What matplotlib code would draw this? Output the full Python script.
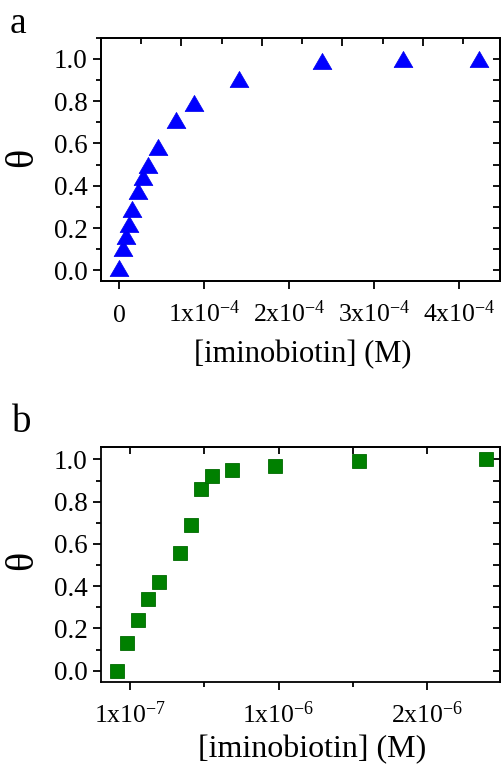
import matplotlib
matplotlib.use("Agg")
import matplotlib.pyplot as plt
from matplotlib.path import Path
from matplotlib.ticker import MultipleLocator, FixedLocator, NullFormatter

plt.rcParams["font.family"] = ["Liberation Serif", "DejaVu Serif"]
plt.rcParams["mathtext.fontset"] = "custom"
plt.rcParams["mathtext.rm"] = "Liberation Serif"
plt.rcParams["mathtext.it"] = "Liberation Serif:italic"

# ---- data ----
# panel a: triangles
conc_a = [0.0, 0.04e-4, 0.08e-4, 0.11e-4, 0.145e-4, 0.215e-4, 0.275e-4, 0.335e-4,
          0.45e-4, 0.665e-4, 0.885e-4, 1.405e-4, 2.39e-4, 3.34e-4, 4.23e-4]
theta_a = [0.01, 0.105, 0.165, 0.22, 0.29, 0.375, 0.44, 0.50,
           0.585, 0.71, 0.79, 0.905, 0.99, 1.0, 1.0]
xticks_a = [0, 1e-4, 2e-4, 3e-4, 4e-4]
xticklabels_a = ["0", r"1x10$^{\mathregular{-4}}$", r"2x10$^{\mathregular{-4}}$",
                 r"3x10$^{\mathregular{-4}}$", r"4x10$^{\mathregular{-4}}$"]

# panel b: squares
conc_b = [-0.088e-6, -0.021e-6, 0.052e-6, 0.123e-6, 0.195e-6, 0.336e-6, 0.408e-6,
          0.475e-6, 0.551e-6, 0.688e-6, 0.977e-6, 1.542e-6, 2.397e-6]
theta_b = [0.0, 0.13, 0.24, 0.34, 0.42, 0.555, 0.69, 0.86, 0.92, 0.95, 0.97, 0.99, 1.0]
xticks_b = [0, 1e-6, 2e-6]
xticklabels_b = [r"1x10$^{\mathregular{-7}}$", r"1x10$^{\mathregular{-6}}$",
                 r"2x10$^{\mathregular{-6}}$"]

yticks = [0.0, 0.2, 0.4, 0.6, 0.8, 1.0]
yticklabels = ["0.0", "0.2", "0.4", "0.6", "0.8", "1.0"]
xlabel = "[iminobiotin] (M)"
ylabel = "\u03b8"

W, H = 501, 764
fig = plt.figure(figsize=(W / 100, H / 100), dpi=100)

# flattened triangle marker (wider than tall)
tri = Path([(0, 0.86), (-1, -0.86), (1, -0.86), (0, 0.86)],
           [Path.MOVETO, Path.LINETO, Path.LINETO, Path.CLOSEPOLY])

SPINE_LW = 1.3
XTICK_FS = 18.5
YTICK_FS = 19.5


def px_axes(left, top, right, bottom):
    return fig.add_axes([left / W, 1 - bottom / H, (right - left) / W, (bottom - top) / H])


def style_common(ax):
    for s in ax.spines.values():
        s.set_linewidth(SPINE_LW)
    ax.tick_params(axis="both", which="major", width=SPINE_LW)
    ax.tick_params(axis="both", which="minor", width=SPINE_LW)
    ax.tick_params(axis="y", which="major", direction="out", length=6, pad=3.5,
                   labelsize=YTICK_FS)
    ax.tick_params(axis="y", which="minor", direction="out", length=3.5)
    ax.tick_params(axis="x", which="major", direction="out", length=5.5, pad=24,
                   labelsize=XTICK_FS)
    ax.tick_params(axis="x", which="minor", direction="out", length=3.5)
    ax.set_yticks(yticks)
    ax.set_yticklabels(yticklabels)
    ax.yaxis.set_minor_locator(MultipleLocator(0.1))
    for lab in ax.get_xticklabels():
        lab.set_verticalalignment("baseline")
    # right side: inward ticks every 0.1
    sec = ax.secondary_yaxis("right")
    sec.set_yticks([round(0.1 * i, 1) for i in range(11)])
    sec.tick_params(direction="in", length=5, width=SPINE_LW, labelright=False)
    sec.spines["right"].set_linewidth(SPINE_LW)
    return sec


# ---------- panel a ----------
axa = px_axes(101, 37.7, 500, 281)
axa.plot(conc_a, theta_a, linestyle="none", marker=tri, markersize=13.5,
         color="#0000ff", markeredgecolor="#0000ee", markeredgewidth=0.5)
axa.set_xlim(-0.215e-4, 4.48e-4)
axa.set_ylim(-0.05, 1.1)
axa.set_xticks(xticks_a)
axa.set_xticklabels(xticklabels_a)
style_common(axa)
axa.set_xlabel(xlabel, fontsize=22)
axa.xaxis.label.set_verticalalignment("baseline")
axa.xaxis.set_label_coords(0.506, -0.332)
axa.set_ylabel(ylabel, fontsize=29)
axa.yaxis.label.set_verticalalignment("center")
axa.yaxis.set_label_coords(-0.196, 0.507)

# top axis of panel a carries its own tick spacing
topa = axa.twiny()
topa.set_xlim(0, 4.96)
topa.xaxis.set_major_locator(FixedLocator([1, 2, 3, 4]))
topa.xaxis.set_minor_locator(FixedLocator([0.5, 1.5, 2.5, 3.5, 4.5]))
topa.xaxis.set_major_formatter(NullFormatter())
topa.tick_params(axis="x", which="major", direction="in", length=6, width=SPINE_LW)
topa.tick_params(axis="x", which="minor", direction="in", length=4, width=SPINE_LW)
topa.tick_params(axis="y", left=False, right=False, labelleft=False, labelright=False)
for s in topa.spines.values():
    s.set_linewidth(SPINE_LW)

# ---------- panel b ----------
axb = px_axes(101, 446.7, 500, 682.3)
axb.plot(conc_b, theta_b, linestyle="none", marker="s", markersize=10,
         color="#008000", markeredgecolor="#006a00", markeredgewidth=0.6)
axb.set_xlim(-0.195e-6, 2.49e-6)
axb.set_ylim(-0.055, 1.06)
axb.set_xticks(xticks_b)
axb.set_xticklabels(xticklabels_b)
axb.xaxis.set_minor_locator(FixedLocator([0.5e-6, 1.5e-6]))
style_common(axb)
axb.set_xlabel(xlabel, fontsize=23)
axb.xaxis.label.set_verticalalignment("baseline")
axb.xaxis.set_label_coords(0.53, -0.316)
axb.set_ylabel(ylabel, fontsize=29)
axb.yaxis.label.set_verticalalignment("center")
axb.yaxis.set_label_coords(-0.196, 0.519)

topb = axb.secondary_xaxis("top")
topb.set_xticks([0, 0.5e-6, 1e-6, 1.5e-6, 2e-6])
topb.tick_params(direction="in", length=5, width=SPINE_LW, labeltop=False)
topb.spines["top"].set_linewidth(SPINE_LW)

# panel letters
fig.text(10 / W, 1 - 33 / H, "a", fontsize=27, va="baseline", ha="left")
fig.text(12 / W, 1 - 432.5 / H, "b", fontsize=28, va="baseline", ha="left")

fig.savefig("out.png", dpi=100)
